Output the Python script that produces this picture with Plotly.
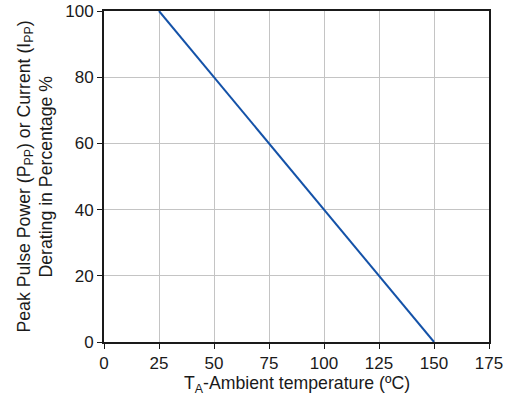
import plotly.graph_objects as go

temp_c = [25, 150]
derating_pct = [100, 0]
x_ticks = [0, 25, 50, 75, 100, 125, 150, 175]
y_ticks = [0, 20, 40, 60, 80, 100]

x_title = "T<sub>A</sub>-Ambient temperature (ºC)"
y_title_1 = "Peak Pulse Power (P<sub>PP</sub>) or Current (I<sub>PP</sub>)"
y_title_2 = "Derating in Percentage %"

fig = go.Figure()
fig.add_trace(go.Scatter(x=temp_c, y=derating_pct, mode="lines",
                         line=dict(color="#1452a8", width=2), showlegend=False, hoverinfo="skip"))

font = dict(family="Liberation Sans, Arial, sans-serif", size=17, color="#1a1a1a")
title_font = dict(family="Liberation Sans, Arial, sans-serif", size=17.7, color="#1a1a1a")
fig.update_layout(
    width=516, height=406,
    margin=dict(l=104, r=27, t=11, b=64),
    paper_bgcolor="white", plot_bgcolor="white",
    font=font,
)
fig.update_xaxes(range=[0, 175], tickvals=x_ticks, showgrid=True, gridcolor="#c4c4c4", gridwidth=1,
                 showline=True, linecolor="#1a1a1a", linewidth=2, mirror=True,
                 ticks="outside", ticklen=5, tickcolor="#1a1a1a", zeroline=False, automargin=False)
fig.update_yaxes(range=[0, 100], tickvals=y_ticks, showgrid=True, gridcolor="#c4c4c4", gridwidth=1,
                 showline=True, linecolor="#1a1a1a", linewidth=2, mirror=True,
                 ticks="outside", ticklen=5, tickcolor="#1a1a1a", zeroline=False, automargin=False)

fig.add_annotation(text=x_title, xref="paper", yref="paper", x=0.5, y=-0.127,
                   xanchor="center", yanchor="middle", showarrow=False, font=title_font)
fig.add_annotation(text=y_title_1, xref="paper", yref="paper", x=-0.205, y=0.5,
                   xanchor="center", yanchor="middle", showarrow=False, textangle=-90, font=title_font)
fig.add_annotation(text=y_title_2, xref="paper", yref="paper", x=-0.153, y=0.5,
                   xanchor="center", yanchor="middle", showarrow=False, textangle=-90, font=title_font)
fig.write_html("out.html", config={"displayModeBar": False},
               post_script="document.body.style.margin='0';document.body.style.overflow='hidden';")
